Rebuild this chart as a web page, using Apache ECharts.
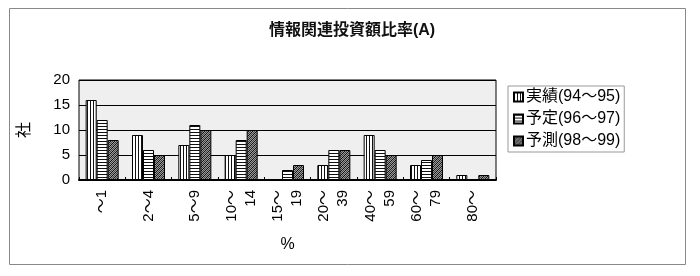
<!DOCTYPE html>
<html>
<head>
<meta charset="utf-8">
<script src="https://cdn.jsdelivr.net/npm/echarts@6/dist/echarts.min.js"></script>
<style>html,body{margin:0;padding:0;background:#fff}#c{width:700px;height:276px}</style>
</head>
<body>
<div id="c"></div>
<script>
const categories = ['～1', '2～4', '5～9', '10～\n14', '15～\n19', '20～\n39', '40～\n59', '60～\n79', '80～'];
const seriesNames = ['実績(94～95)', '予定(96～97)', '予測(98～99)'];
const actual94_95 = [16, 9, 7, 5, 0, 3, 9, 3, 1];
const plan96_97 = [12, 6, 11, 8, 2, 6, 6, 4, 0];
const forecast98_99 = [8, 5, 10, 10, 3, 6, 5, 5, 1];
const yTicks = [0, 5, 10, 15, 20];

const FONT = '"Liberation Sans", "Noto Sans CJK JP", sans-serif';

function makePattern(kind) {
  const c = document.createElement('canvas');
  const ctx = c.getContext('2d');
  if (kind === 'v') {
    c.width = 3; c.height = 3;
    ctx.fillStyle = '#fff'; ctx.fillRect(0, 0, 3, 3);
    ctx.fillStyle = '#111'; ctx.fillRect(0, 0, 1, 3);
  } else if (kind === 'h') {
    c.width = 3; c.height = 3;
    ctx.fillStyle = '#fff'; ctx.fillRect(0, 0, 3, 3);
    ctx.fillStyle = '#111'; ctx.fillRect(0, 0, 3, 1);
  } else {
    c.width = 4; c.height = 4;
    ctx.fillStyle = '#999'; ctx.fillRect(0, 0, 4, 4);
    ctx.fillStyle = '#111';
    for (let i = 0; i < 4; i++) ctx.fillRect(i, (3 - i), 1, 1);
    ctx.fillStyle = '#444';
    for (let i = 0; i < 4; i++) ctx.fillRect(i, (5 - i) % 4, 1, 1);
  }
  return { image: c, repeat: 'repeat' };
}

const patterns = [makePattern('v'), makePattern('h'), makePattern('x')];
const values = [actual94_95, plan96_97, forecast98_99];

const chart = echarts.init(document.getElementById('c'), null, { renderer: 'canvas' });
chart.setOption({
  animation: false,
  backgroundColor: '#fff',
  textStyle: { fontFamily: FONT },
  title: {
    text: '情報関連投資額比率(A)',
    left: 347, top: 18, textAlign: 'center',
    textStyle: { fontFamily: FONT, fontSize: 16, fontWeight: 'bold', color: '#111' }
  },
  graphic: [{
    type: 'rect', silent: true, z: -1,
    shape: { x: 9.5, y: 8.5, width: 676, height: 256 },
    style: { fill: 'none', stroke: '#888', lineWidth: 1 }
  }],
  legend: {
    orient: 'vertical',
    left: 508, top: 86,
    padding: [3, 4, 3, 5],
    itemGap: 6,
    itemWidth: 9, itemHeight: 9,
    icon: 'rect',
    borderColor: '#999', borderWidth: 1,
    textStyle: { fontFamily: FONT, fontSize: 16, color: '#000', padding: [0, 0, 0, -2] },
    data: seriesNames
  },
  grid: { left: 79, right: 204, top: 80, bottom: 96, show: true, backgroundColor: '#efefef', borderColor: '#000', borderWidth: 1 },
  xAxis: {
    type: 'category',
    data: categories,
    name: '%', nameLocation: 'middle', nameGap: 57,
    nameTextStyle: { fontFamily: FONT, fontSize: 16, color: '#000' },
    axisLine: { lineStyle: { color: '#000', width: 2 } },
    axisTick: { show: true, inside: true, length: 3, lineStyle: { color: '#000' } },
    axisLabel: { rotate: 90, margin: 10, fontSize: 15, lineHeight: 19, color: '#000', fontFamily: FONT, interval: 0 }
  },
  yAxis: {
    type: 'value', min: 0, max: 20, interval: 5,
    name: '社', nameLocation: 'middle', nameGap: 46, nameRotate: 90,
    nameTextStyle: { fontFamily: FONT, fontSize: 16, color: '#000' },
    axisLine: { show: false },
    axisTick: { show: false },
    axisLabel: { fontSize: 15, color: '#000', margin: 9, fontFamily: FONT,
      formatter: v => yTicks.includes(v) ? String(v) : '' },
    splitLine: { lineStyle: { color: '#000', width: 1 } }
  },
  series: seriesNames.map((n, i) => ({
    name: n, type: 'bar', data: values[i],
    barWidth: 11, barGap: '0%',
    itemStyle: { color: patterns[i], borderColor: '#000', borderWidth: 1 }
  }))
});
</script>
</body>
</html>
